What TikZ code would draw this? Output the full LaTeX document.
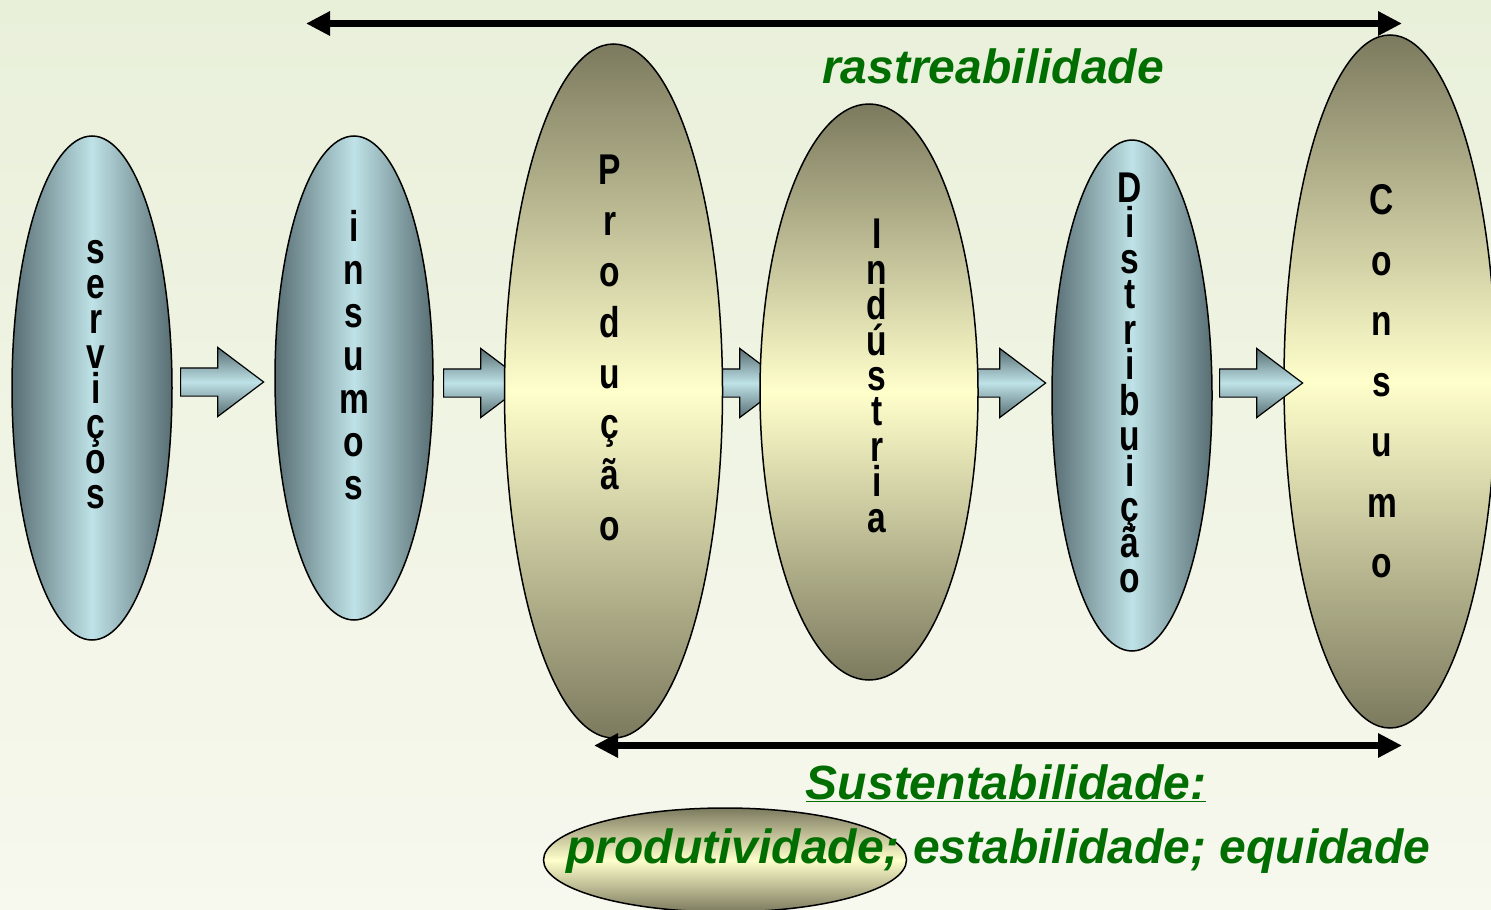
\documentclass[tikz,border=0pt]{standalone}
\usepackage{fontspec}
\setmainfont{Liberation Sans}
\newfontfamily\letterfont[FakeStretch=0.78]{Liberation Sans}
\usetikzlibrary{positioning,shapes,shapes.geometric,shapes.arrows,arrows.meta}
\definecolor{slate}{RGB}{88,110,115}
\definecolor{ice}{RGB}{190,226,231}
\definecolor{olive}{RGB}{124,122,94}
\definecolor{cream}{RGB}{255,255,204}
\definecolor{leaf}{RGB}{0,110,0}
\definecolor{bgtop}{RGB}{233,240,218}
\definecolor{bgbot}{RGB}{247,248,238}

\begin{document}
\begin{tikzpicture}[
		x=1pt, y=-1pt,
		>={Triangle[length=24pt, width=23pt]},
		every node/.style={inner sep=0pt},
		dims/.style 2 args={minimum width=#1, minimum height=#2},
		cool/.style={ellipse, draw, line width=1.5pt,
			left color=slate, right color=slate, middle color=ice},
		warm/.style={ellipse, draw, line width=1.5pt,
			top color=olive, bottom color=olive, middle color=cream},
		flow/.style={single arrow, draw, line width=1.2pt, anchor=tail,
			minimum height=83pt, inner xsep=0pt, inner ysep=13.5pt,
			single arrow head extend=20.5pt, single arrow tip angle=74,
			top color=slate, bottom color=slate, middle color=ice},
		letters/.style={align=center, text=black,
			font={\letterfont\bfseries\fontsize{43}{#1}\selectfont\lineskiplimit=-100pt}},
		slogan/.style={text=leaf, font=\bfseries\itshape\fontsize{48}{58}\selectfont},
		track/.style={<->, line width=7pt}
	]
	\useasboundingbox (0,0) rectangle (1491,910);
	\shade[top color=bgtop, bottom color=bgbot] (0,0) rectangle (1491,910);
	
	% arrows hidden partly behind the stages
	\node(a2)[flow] at (443,383) {};
	\node(a3)[flow] at (702,383) {};
	\node(a4)[flow] at (962,383) {};
	
	% stages
	\node(serv)[cool, dims={160pt}{504pt}] at (92,388) {};
	\node(ins)[cool, dims={158pt}{484pt}] at (354,378) {};
	\node(prod)[warm, dims={218pt}{694pt}] at (613.5,391) {};
	\node(ind)[warm, dims={218pt}{576pt}] at (869,392) {};
	\node(dist)[cool, dims={160pt}{511pt}] at (1132,395.5) {};
	\node(cons)[warm, dims={212pt}{693pt}] at (1390,381.5) {};
	
	\node(a1)[flow] at (180,382) {};
	\node(a5)[flow] at (1219,383) {};
	
	\node(servtxt)[letters=35pt] at (96,375) {s\\e\\r\\v\\i\\ç\\o\\s};
	\node(instxt)[letters=43pt] at (354,355) {i\\n\\s\\u\\m\\o\\s};
	\node(prodtxt)[letters=50.9pt] at (610,348) {P\\r\\o\\d\\u\\ç\\ã\\o};
	\node(indtxt)[letters=35.4pt] at (877,376) {I\\n\\d\\ú\\s\\t\\r\\i\\a};
	\node(disttxt)[letters=35.5pt] at (1130,383) {D\\i\\s\\t\\r\\i\\b\\u\\i\\ç\\ã\\o};
	\node(constxt)[letters=60.5pt] at (1382,381.5) {C\\o\\n\\s\\u\\m\\o};
	
	% traceability and sustainability spans
	\coordinate(rastL) at (306,23.5);
	\coordinate(rastR) at (1402,23.5);
	\draw[track] (rastL) -- (rastR);
	\node(rast)[slogan] at (993,66) {rastreabilidade};
	
	\coordinate(sustL) at (594,745.5);
	\coordinate(sustR) at (1402,745.5);
	\draw[track] (sustL) -- (sustR);
	\node(sust)[slogan] at (1006,783) {\underline{Sustentabilidade:}};
	
	\node(prodell)[warm, dims={363pt}{104pt}] at (725,860) {};
	\node(pilares)[slogan] at (998.5,851) {produtividade; estabilidade; equidade};
	
\end{tikzpicture}
\end{document}
